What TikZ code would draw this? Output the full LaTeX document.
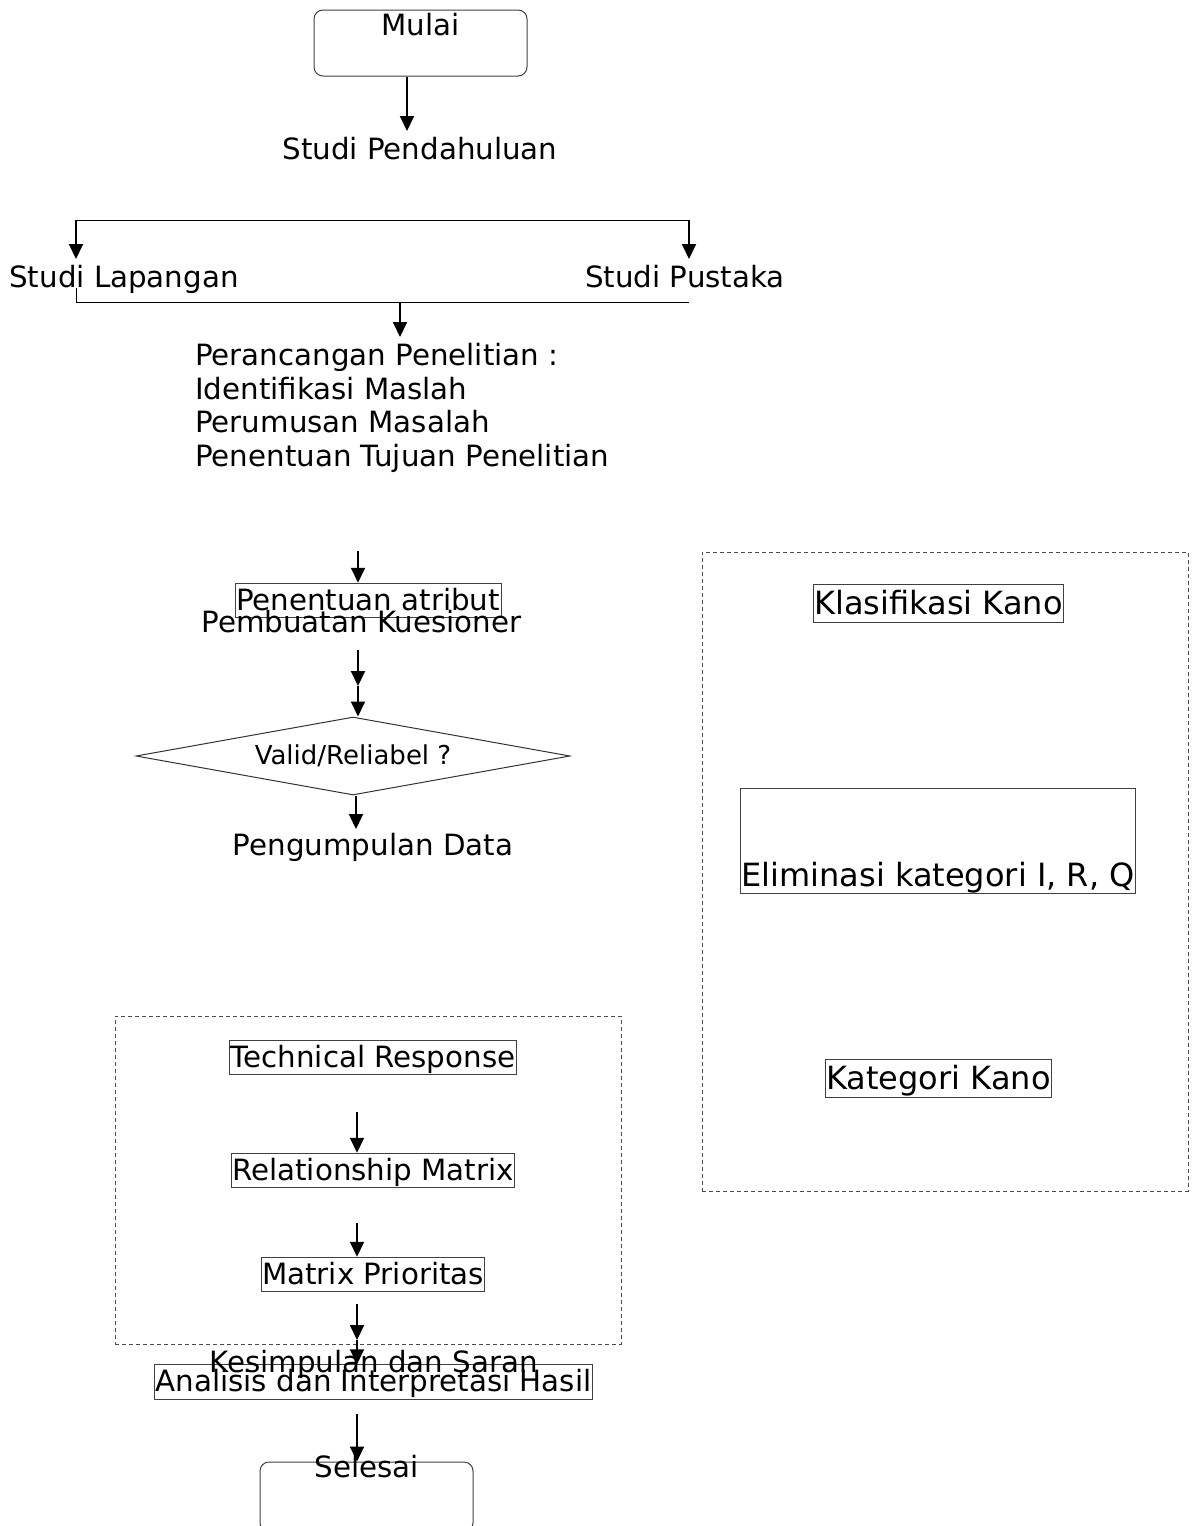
\documentclass[tikz,border=0pt]{standalone}
\usepackage{fontspec}
\setmainfont{DejaVu Sans}
\usetikzlibrary{arrows.meta,positioning,shapes.geometric}

\begin{document}
\begin{tikzpicture}[
    x=1pt, y=-1pt,
    lbl/.style={font=\fontsize{29.3}{33.7}\selectfont, inner sep=0pt, anchor=base},
    box/.style={draw=black!75, line width=1pt, font=\fontsize{29.3}{34}\selectfont, inner xsep=1pt, inner ysep=0.5pt, text height=26.5pt, text depth=7pt},
    bigbox/.style={box, font=\fontsize{32}{38}\selectfont, inner xsep=0.5pt, text height=29.5pt, text depth=7.5pt},
    term/.style={draw=black!75, line width=1pt, rounded corners=9pt, minimum width=213pt, minimum height=66pt},
    grp/.style={draw=black!70, line width=1pt, dash pattern=on 4pt off 3pt, minimum width=#1},
    arr/.style={-{Triangle[length=15pt,width=14pt]}, line width=2pt},
    thin/.style={line width=1pt}
  ]
    \useasboundingbox (0,0) rectangle (1196,1526);

    \node[term, label={[lbl, anchor=north, yshift=-4pt]north:Mulai}] (mulai) at (420.5,43) {};
    \node[lbl] (pend) at (420,159) {Studi Pendahuluan};
    \node[lbl] (lap) at (124,287) {Studi Lapangan};
    \node[lbl] (pus) at (685,287) {Studi Pustaka};
    \node[lbl, anchor=north west, align=left] (ranc) at (195,343) {Perancangan Penelitian :\\Identifikasi Maslah\\Perumusan Masalah\\Penentuan Tujuan Penelitian};

    \node[box] (atr) at (368,600.5) {Penentuan atribut};
    \node[lbl] (kues) at (361.5,632) {Pembuatan Kuesioner};
    \node[diamond, draw=black!80, line width=1pt, aspect=5.56, minimum width=434pt, minimum height=78pt, inner sep=0pt, font=\fontsize{26}{30}\selectfont] (valid) at (353,756) {Valid/Reliabel ?};
    \node[lbl] (data) at (373,855) {Pengumpulan Data};

    \node[grp=486pt, minimum height=639pt] (kano) at (945,871.5) {};
    \node[bigbox] (klas) at (938.5,603.5) {Klasifikasi Kano};
    \node[bigbox, text height=97pt, text depth=6pt, inner ysep=1pt] (elim) at (938,840.5) {Eliminasi kategori I, R, Q};
    \node[bigbox] (kat) at (938.5,1078) {Kategori Kano};

    \node[grp=506pt, minimum height=328pt] (qfd) at (368,1180) {};
    \node[box] (tech) at (373,1057.5) {Technical Response};
    \node[box] (rel) at (373,1170.5) {Relationship Matrix};
    \node[box] (prio) at (373,1274.5) {Matrix Prioritas};
    \node[box] (anl) at (373.5,1382) {Analisis dan Interpretasi Hasil};
    \node[lbl] (simp) at (373.5,1372) {Kesimpulan dan Saran};
    \node[term, minimum height=70pt, label={[lbl, anchor=north, yshift=6pt]north:Selesai}] (sls) at (366.5,1497) {};

    \coordinate (a1) at (407,131);
    \coordinate (bt) at (76,220);
    \coordinate (bl) at (76,259);
    \coordinate (br) at (689,259);
    \coordinate (jl) at (76,288);
    \coordinate (jb) at (76,302);
    \coordinate (jr) at (689,302);
    \coordinate (a2) at (400,337);
    \coordinate (a3) at (358,551);
    \coordinate (a4) at (358,650);
    \coordinate (a5) at (358,686);
    \coordinate (a6) at (356,829);
    \coordinate (a7) at (357,1112);
    \coordinate (a8) at (357,1223);
    \coordinate (a9) at (357,1304);
    \coordinate (a10) at (357,1340);
    \coordinate (a11) at (357,1414);

    \draw[arr] (mulai.south -| a1) -- (a1);
    \draw[thin] (bt) -- (bt -| br);
    \draw[arr] (bt) -- (bl);
    \draw[arr] (bt -| br) -- (br);
    \draw[thin] (jl) -- (jb) -- (jr);
    \draw[arr] (a2 |- jb) -- (a2);
    \draw[arr] (a3) -- (a3 |- atr.north);
    \draw[arr] (a4) -- (a5);
    \draw[arr] (a5) -- (a5 |- valid.north);
    \draw[arr] (a6 |- valid.south) -- (a6);
    \draw[arr] (a7) -- (a7 |- rel.north);
    \draw[arr] (a8) -- (a8 |- prio.north);
    \draw[arr] (a9) -- (a10);
    \draw[arr] (a10) -- (a10 |- anl.north);
    \draw[arr] (a11) -- (a11 |- sls.north);
  \end{tikzpicture}
\end{document}
